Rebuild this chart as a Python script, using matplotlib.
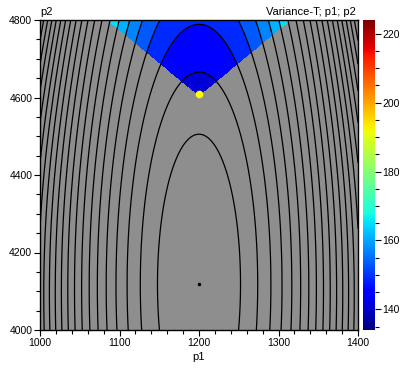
import numpy as np
import matplotlib.pyplot as plt
from matplotlib.colors import Normalize
from matplotlib.ticker import MultipleLocator

plt.rcParams['font.family'] = ['Liberation Sans', 'DejaVu Sans']
plt.rcParams['font.size'] = 7

# surface: minimum, curvatures, contour step
p1_min, p2_min = 1200, 4118
f_min = 135.0
k_scale = 2.667e-5          # value per (p2 unit)^2
p1_weight = 55.0            # p1 curvature relative to p2
p1_quart_top = 3.0e-4       # extra p1^4 growth, strongest at top edge
contour_levels = np.arange(139, 220, 4)

# feasible region p2 >= edge_base + edge_slope*|p1 - 1200|
edge_base, edge_slope = 4605, 1.7

opt_point = (1200, 4608)
min_point = (1200, 4118)

p1_range = (1000, 1400)
p2_range = (4000, 4800)
cbar_range = (134, 224)

p1 = np.linspace(*p1_range, 801)
p2 = np.linspace(*p2_range, 801)
P1, P2 = np.meshgrid(p1, p2)
d1 = P1 - p1_min
d2 = P2 - p2_min
quart = p1_quart_top * ((P2 - p2_range[0]) / (p2_range[1] - p2_range[0])) ** 2.5
F = f_min + k_scale * (p1_weight * d1 ** 2 + quart * d1 ** 4 + d2 ** 2)
feasible = P2 >= edge_base + edge_slope * np.abs(d1)
F_col = np.ma.masked_where(~feasible, F)

fig = plt.figure(figsize=(4.09, 3.71), dpi=100)
ax = fig.add_axes([40 / 409, 41 / 371, 318 / 409, 310 / 371])
cax = fig.add_axes([363 / 409, 41 / 371, 12 / 409, 310 / 371])

norm = Normalize(*cbar_range)
ax.set_facecolor('#8e8e8e')
ax.contourf(P1, P2, F_col, levels=contour_levels, cmap='jet', norm=norm)
ax.contour(P1, P2, F, levels=contour_levels, colors='black', linewidths=0.9)
ax.plot(*opt_point, 'o', color='#ffff00', markersize=5.5, markeredgewidth=0)
ax.plot(*min_point, 'o', color='black', markersize=1.5)

ax.set_xlim(*p1_range)
ax.set_ylim(*p2_range)
ax.xaxis.set_major_locator(MultipleLocator(100))
ax.xaxis.set_minor_locator(MultipleLocator(20))
ax.yaxis.set_major_locator(MultipleLocator(200))
ax.yaxis.set_minor_locator(MultipleLocator(50))
ax.tick_params(which='both', direction='out', length=4, width=0.8, pad=1.5, labelsize=7.5)
ax.tick_params(which='minor', length=3)
for s in ax.spines.values():
    s.set_linewidth(1)

# colorbar
grad = np.linspace(*cbar_range, 256).reshape(-1, 1)
cax.imshow(grad, aspect='auto', cmap='jet', norm=norm, origin='lower',
           extent=[0, 1, cbar_range[0], cbar_range[1]])
cax.set_xticks([])
cax.yaxis.tick_right()
cax.yaxis.set_major_locator(MultipleLocator(20))
cax.yaxis.set_minor_locator(MultipleLocator(5))
cax.tick_params(which='both', direction='out', length=4, width=0.8, pad=1.5, labelsize=7.5)
cax.tick_params(which='minor', length=3)
for s in cax.spines.values():
    s.set_visible(False)

fig.text(40 / 409, 1 - 12 / 371, 'p2', ha='left', va='center', fontsize=8)
fig.text(356 / 409, 1 - 12 / 371, 'Variance-T; p1; p2', ha='right', va='center', fontsize=8)
fig.text(199 / 409, 1 - 357 / 371, 'p1', ha='center', va='center', fontsize=8)

fig.savefig('out.png', dpi=100)
